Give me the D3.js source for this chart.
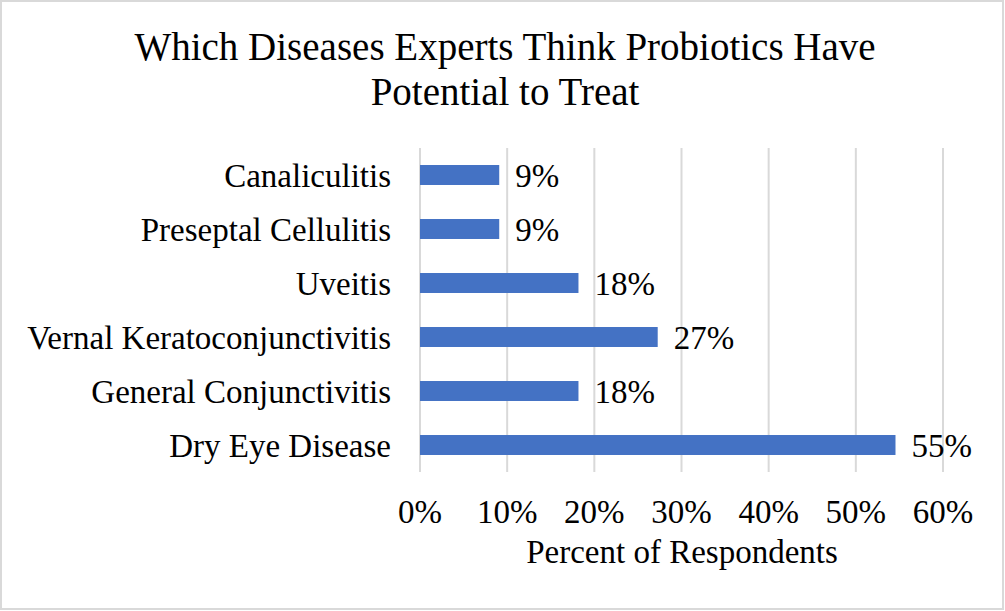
<!DOCTYPE html>
<html lang="en">
<head>
    <meta charset="UTF-8">
    <script src="https://d3js.org/d3.v7.min.js"></script>
    <title>Probiotics</title>
    <style>
        body { margin: 0; background: #fff; }
    </style>
</head>
<body>
    <svg id="chart"></svg>
    <script>
        const width = 1005;
        const height = 611;
        const categories = ["Canaliculitis", "Preseptal Cellulitis", "Uveitis",
            "Vernal Keratoconjunctivitis", "General Conjunctivitis", "Dry Eye Disease"];
        const values = [9.09, 9.09, 18.18, 27.27, 18.18, 54.55];
        const ticks = [0, 10, 20, 30, 40, 50, 60];
        const titleLines = ["Which Diseases Experts Think Probiotics Have", "Potential to Treat"];
        const font = "'Liberation Serif', 'Times New Roman', serif";

        const svg = d3.select("#chart").attr("width", width).attr("height", height);

        // chart border
        svg.append("rect").attr("x", 1).attr("y", 1)
            .attr("width", width - 3).attr("height", height - 3)
            .attr("fill", "#fff").attr("stroke", "#d9d9d9").attr("stroke-width", 2);

        const x = d3.scaleLinear().domain([0, 60]).range([420, 943]);
        const y = d3.scaleBand().domain(categories).range([148, 472]).paddingInner(0.63).paddingOuter(0.315);

        // gridlines
        svg.append("g").selectAll("line").data(ticks).join("line")
            .attr("x1", d => x(d)).attr("x2", d => x(d))
            .attr("y1", 148).attr("y2", 472)
            .attr("stroke", "#d9d9d9").attr("stroke-width", 2);

        // bars
        svg.append("g").selectAll("rect").data(values).join("rect")
            .attr("x", x(0))
            .attr("y", (d, i) => y(categories[i]))
            .attr("width", d => x(d) - x(0))
            .attr("height", y.bandwidth())
            .attr("fill", "#4472c4");

        // data labels
        svg.append("g").selectAll("text").data(values).join("text")
            .attr("x", d => x(d) + 16)
            .attr("y", (d, i) => y(categories[i]) + y.bandwidth() / 2)
            .attr("dy", "0.35em")
            .attr("font-family", font).attr("font-size", 33).attr("fill", "#000")
            .text(d => Math.round(d) + "%");

        // category labels
        svg.append("g").selectAll("text").data(categories).join("text")
            .attr("x", 391)
            .attr("y", d => y(d) + y.bandwidth() / 2)
            .attr("dy", "0.35em")
            .attr("text-anchor", "end")
            .attr("font-family", font).attr("font-size", 33).attr("fill", "#000")
            .text(d => d);

        // x tick labels
        svg.append("g").selectAll("text").data(ticks).join("text")
            .attr("x", d => x(d))
            .attr("y", 523)
            .attr("text-anchor", "middle")
            .attr("font-family", font).attr("font-size", 33).attr("fill", "#000")
            .text(d => d + "%");

        // axis title
        svg.append("text")
            .attr("x", 682).attr("y", 563)
            .attr("text-anchor", "middle")
            .attr("font-family", font).attr("font-size", 33).attr("fill", "#000")
            .text("Percent of Respondents");

        // title
        svg.append("g").selectAll("text").data(titleLines).join("text")
            .attr("x", 505)
            .attr("y", (d, i) => 60 + i * 45)
            .attr("text-anchor", "middle")
            .attr("font-family", font).attr("font-size", 39).attr("fill", "#000")
            .text(d => d);
    </script>
</body>
</html>
